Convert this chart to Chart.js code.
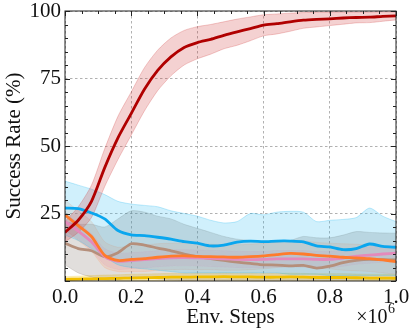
<!DOCTYPE html>
<html>
<head>
<meta charset="utf-8">
<script src="https://cdn.jsdelivr.net/npm/chart.js@4"></script>
<style>
  html, body { margin: 0; padding: 0; background: #fff; }
  #wrap { width: 415px; height: 332px; }
</style>
</head>
<body>
<div id="wrap"><canvas id="chart" width="415" height="332"></canvas></div>
<script>
// env steps (x 1e6)
const steps = [0, 0.04, 0.08, 0.12, 0.16, 0.2, 0.24, 0.28, 0.32, 0.36, 0.4, 0.44, 0.48,
               0.52, 0.56, 0.6, 0.64, 0.68, 0.72, 0.76, 0.8, 0.84, 0.88, 0.92, 0.96, 1.0];

// mean success rate per method
const redMean    = [18, 22.5, 29.5, 42, 53, 62, 71, 78, 83, 86.5, 88.3, 89.5, 91, 92.3, 93.5, 94.8, 95.3, 96, 96.6, 96.9, 97.1, 97.4, 97.6, 97.7, 98, 98.2];
const blueMean   = [27, 26.8, 25.2, 23, 18.7, 17.1, 16.8, 16.2, 15.5, 14.6, 14, 13, 13.3, 14.4, 14.8, 14.6, 14.8, 14.8, 14.5, 13, 12.6, 11.6, 12, 13.7, 12.8, 12.5];
const orangeMean = [24.5, 20.5, 16.5, 9.5, 7.6, 8, 8.3, 8.8, 9.2, 9.3, 9.1, 9, 8.9, 8.8, 9, 9.3, 9.8, 10.2, 10, 9.5, 9.2, 8.8, 8.6, 8.3, 7.8, 7.2];
const pinkMean   = [22, 18.5, 14.5, 9, 7.3, 7.6, 7.9, 8.3, 8.6, 8.7, 8.6, 8.4, 8.2, 8, 7.9, 8, 8.2, 8.2, 8.2, 8, 8, 8.5, 9.2, 9.6, 10, 10.3];
const brownMean  = [14, 12, 11.2, 9, 10.5, 13.8, 13.3, 12.2, 11.2, 10, 9, 8.3, 7.6, 7, 6.5, 6, 5.9, 5.6, 5.8, 4.8, 5.5, 6.8, 7.6, 8, 7.9, 7.8];
const yellowMean = [0.6, 0.7, 0.8, 0.9, 1.0, 1.1, 1.2, 1.3, 1.4, 1.4, 1.5, 1.5, 1.6, 1.5, 1.5, 1.4, 1.4, 1.5, 1.4, 1.3, 1.3, 1.3, 1.2, 1.1, 1.1, 1.0];

// shaded band bounds
const redUpper    = [22, 27.5, 35.5, 49, 61, 70, 79, 85.5, 90, 92.8, 94.2, 95, 96, 97, 97.8, 98.6, 98.9, 99.2, 99.4, 99.5, 99.6, 99.6, 99.6, 99.6, 99.7, 99.6];
const redLower    = [14.5, 18, 23.5, 35, 45, 54, 63, 70.5, 76, 80, 82.3, 84, 86, 87.3, 89, 90.8, 91.5, 92.5, 93.6, 94.1, 94.6, 95.1, 95.6, 95.7, 96.2, 96.7];
const blueUpper   = [37, 35.5, 34, 32, 29.5, 28.5, 28, 27.5, 26, 25, 24, 22.5, 21.5, 22, 25, 24.5, 25.5, 25.8, 25.5, 22, 22.5, 22.8, 23.5, 27, 24, 22];
const blueLower   = [17, 15, 12, 9, 6, 5, 4.5, 4, 3.5, 3, 3, 3, 3, 3, 3, 3, 3, 2.5, 2.5, 2.5, 2, 2, 2, 2, 2, 2];
const orangeUpper = [30, 26, 22, 14.5, 12.5, 13, 13.3, 13.8, 14, 14, 13.8, 13.6, 13.5, 13.4, 13.6, 14, 14.5, 15, 14.8, 14.3, 14, 13.8, 13.6, 13.2, 12.8, 12.3];
const orangeLower = [19, 15, 11, 5, 3.5, 3.5, 3.5, 4, 4.2, 4.3, 4.2, 4.2, 4, 4, 4.2, 4.5, 5, 5.3, 5.2, 4.8, 4.5, 4, 3.8, 3.5, 3, 2.5];
const pinkUpper   = [25, 21.5, 17.5, 12, 10.3, 10.5, 10.8, 11.2, 11.5, 11.6, 11.5, 11.3, 11.2, 11, 10.9, 11, 11.3, 11.3, 11.3, 11, 11, 11.5, 12.2, 12.6, 13, 13.3];
const pinkLower   = [19, 15.5, 11.5, 6, 4.3, 4.6, 4.9, 5.3, 5.6, 5.7, 5.6, 5.4, 5.2, 5, 4.9, 5, 5.2, 5.2, 5.2, 5, 5, 5.5, 6.2, 6.6, 7, 7.3];
const brownUpper  = [22, 21, 21, 20, 23, 26, 25.5, 24, 23, 21, 19.5, 18, 16.5, 15.5, 15, 14.5, 14.5, 15, 16.5, 16, 16, 17, 18.3, 18, 17.8, 17.7];
const brownLower  = [6, 3, 1.5, 0.5, 0.5, 1.5, 1.3, 0.8, 0.5, 0.3, 0.3, 0.3, 0.3, 0.3, 0.3, 0.3, 0.3, 0.3, 0.3, 0.3, 0.3, 0.3, 0.3, 0.3, 0.3, 0.3];
const yellowUpper = [1.6, 1.8, 2, 2.2, 2.3, 2.5, 2.6, 2.7, 2.8, 2.8, 2.9, 2.9, 3, 2.9, 2.9, 2.8, 2.8, 2.9, 2.8, 2.7, 2.7, 2.7, 2.6, 2.5, 2.5, 2.4];
const yellowLower = [0, 0, 0, 0, 0, 0, 0, 0, 0.1, 0.1, 0.2, 0.2, 0.3, 0.2, 0.2, 0.1, 0.1, 0.2, 0.1, 0, 0, 0, 0, 0, 0, 0];

const yTicks = [25, 50, 75, 100];

const FONT = "'Liberation Serif', 'Times New Roman', serif";

const series = [
  { mean: redMean,    up: redUpper,    lo: redLower,    line: '#b00000', band: 'rgba(205,45,45,0.22)',   edge: 'rgba(205,45,45,0.30)' },
  { mean: blueMean,   up: blueUpper,   lo: blueLower,   line: '#0aa6ee', band: 'rgba(40,185,240,0.22)',  edge: 'rgba(40,185,240,0.35)' },
  { mean: orangeMean, up: orangeUpper, lo: orangeLower, line: '#ff7b2c', band: 'rgba(255,150,100,0.18)', edge: 'rgba(255,150,100,0.25)' },
  { mean: pinkMean,   up: pinkUpper,   lo: pinkLower,   line: '#e48abb', band: 'rgba(230,140,190,0.16)', edge: 'rgba(230,140,190,0.2)' },
  { mean: brownMean,  up: brownUpper,  lo: brownLower,  line: '#b58f7b', band: 'rgba(120,105,95,0.22)',  edge: 'rgba(120,105,95,0.25)' },
  { mean: yellowMean, up: yellowUpper, lo: yellowLower, line: '#f2bf00', band: 'rgba(245,200,30,0.28)',  edge: 'rgba(245,200,30,0.3)' }
];

const pts = arr => arr.map((v, i) => ({ x: steps[i], y: v }));

const datasets = [];
// mean lines on top (low order = drawn last)
series.forEach((s, k) => {
  datasets.push({
    data: pts(s.mean), borderColor: s.line, borderWidth: 2.8, pointRadius: 0,
    tension: 0.25, fill: false, order: k
  });
});
// bands underneath
series.forEach((s, k) => {
  const loIndex = datasets.length;
  datasets.push({
    data: pts(s.lo), borderColor: s.edge, borderWidth: 0.8, pointRadius: 0,
    tension: 0.25, fill: false, order: 10 + k * 2 + 1
  });
  datasets.push({
    data: pts(s.up), borderColor: s.edge, borderWidth: 0.8, pointRadius: 0,
    tension: 0.25, fill: loIndex, backgroundColor: s.band, order: 10 + k * 2
  });
});

// frame, inward ticks, x10^6 label
const framePlugin = {
  id: 'frame',
  afterDraw(chart) {
    const { ctx, chartArea: a, scales } = chart;
    const xs = scales.x, ys = scales.y;
    ctx.save();
    ctx.strokeStyle = '#222';
    ctx.lineWidth = 1;
    ctx.strokeRect(a.left, a.top, a.right - a.left, a.bottom - a.top);
    ctx.beginPath();
    for (let i = 0; i <= 20; i++) {
      const v = i * 0.05;
      const px = Math.round(xs.getPixelForValue(v)) + 0.5;
      const len = i % 4 === 0 ? 5 : 3;
      ctx.moveTo(px, a.bottom); ctx.lineTo(px, a.bottom - len);
      ctx.moveTo(px, a.top); ctx.lineTo(px, a.top + len);
    }
    for (let i = 0; i <= 20; i++) {
      const v = i * 5;
      const py = Math.round(ys.getPixelForValue(v)) + 0.5;
      const len = i % 5 === 0 ? 5 : 3;
      ctx.moveTo(a.left, py); ctx.lineTo(a.left + len, py);
      ctx.moveTo(a.right, py); ctx.lineTo(a.right - len, py);
    }
    ctx.stroke();

    ctx.fillStyle = '#111';
    ctx.textBaseline = 'alphabetic';
    ctx.font = '14px ' + FONT;
    ctx.textAlign = 'right';
    ctx.fillText('6', a.right - 1, 313);
    const w6 = ctx.measureText('6').width;
    ctx.font = '20px ' + FONT;
    ctx.fillText('×10', a.right - 1 - w6 - 0.5, 323);
    ctx.restore();
  }
};

new Chart(document.getElementById('chart'), {
  type: 'line',
  data: { datasets },
  options: {
    responsive: false,
    animation: false,
    events: [],
    layout: { padding: { top: 11, right: 19, left: 0, bottom: 0 } },
    plugins: { legend: { display: false }, tooltip: { enabled: false } },
    scales: {
      x: {
        type: 'linear', min: 0, max: 1,
        afterFit: s => { s.height = 51; s.paddingLeft = 0; s.paddingRight = 0; },
        grid: { color: 'rgba(90,90,90,0.6)', lineWidth: 0.8, drawTicks: false },
        border: { display: false, dash: [2.5, 2.5] },
        ticks: {
          stepSize: 0.2, padding: 4, color: '#111',
          font: { family: FONT, size: 21 },
          callback: v => Number(v).toFixed(1)
        },
        title: {
          display: true, text: 'Env. Steps', color: '#111',
          font: { family: FONT, size: 21 }, padding: { top: 0, bottom: 2 }
        }
      },
      y: {
        min: 0, max: 100,
        afterFit: s => { s.width = 65; s.paddingTop = 0; s.paddingBottom = 0; },
        afterBuildTicks: s => { s.ticks = yTicks.map(v => ({ value: v })); },
        grid: { color: 'rgba(90,90,90,0.6)', lineWidth: 0.8, drawTicks: false },
        border: { display: false, dash: [2.5, 2.5] },
        ticks: {
          padding: 4, color: '#111',
          font: { family: FONT, size: 21, lineHeight: 1 }
        },
        title: {
          display: true, text: 'Success Rate (%)', color: '#111',
          font: { family: FONT, size: 21 }, padding: { top: 2, bottom: 0 }
        }
      }
    }
  },
  plugins: [framePlugin]
});
</script>
</body>
</html>
